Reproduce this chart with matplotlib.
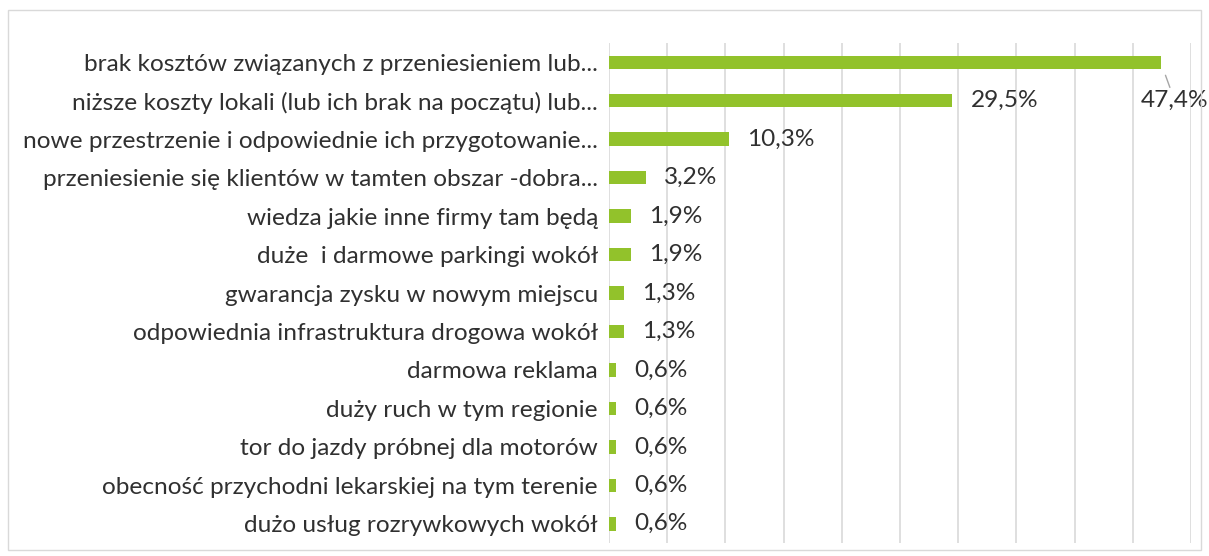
import matplotlib
matplotlib.use("Agg")
import matplotlib.pyplot as plt
from matplotlib.patches import Rectangle

categories = [
    "brak kosztów związanych z przeniesieniem lub...",
    "niższe koszty lokali (lub ich brak na początu) lub...",
    "nowe przestrzenie i odpowiednie ich przygotowanie...",
    "przeniesienie się klientów w tamten obszar -dobra...",
    "wiedza jakie inne firmy tam będą",
    "duże  i darmowe parkingi wokół",
    "gwarancja zysku w nowym miejscu",
    "odpowiednia infrastruktura drogowa wokół",
    "darmowa reklama",
    "duży ruch w tym regionie",
    "tor do jazdy próbnej dla motorów",
    "obecność przychodni lekarskiej na tym terenie",
    "dużo usług rozrywkowych wokół",
]
values = [47.4, 29.5, 10.3, 3.2, 1.9, 1.9, 1.3, 1.3, 0.6, 0.6, 0.6, 0.6, 0.6]
labels = ["47,4%", "29,5%", "10,3%", "3,2%", "1,9%", "1,9%", "1,3%", "1,3%",
          "0,6%", "0,6%", "0,6%", "0,6%", "0,6%"]

plt.rcParams['font.family'] = ['Lato', 'DejaVu Sans']
FS = 17.6
COL = "#303030"
TXT = dict(fontsize=FS, fontweight="normal", color=COL, zorder=5)

W, H = 1209, 556
fig = plt.figure(figsize=(W / 100, H / 100), dpi=100)
fig.patches.append(Rectangle((8 / W, 6 / H), (W - 16) / W, (H - 16) / H,
                             transform=fig.transFigure, fill=False,
                             edgecolor="#d9d9d9", linewidth=1))

ax = fig.add_axes([609 / W, 1 - 543 / H, (1191 - 609) / W, (543 - 43) / H])
y = list(range(len(categories)))
ax.barh(y, values, height=0.35, color="#92C22B", zorder=3)
ax.set_xlim(0, 50)
ax.set_ylim(len(categories) - 0.5, -0.5)
ax.set_xticks(range(0, 51, 5))
ax.xaxis.grid(True, color="#d9d9d9", linewidth=1.2, zorder=0)
ax.tick_params(axis="x", length=0, labelbottom=False)
ax.tick_params(axis="y", length=0, pad=8)
ax.set_yticks(y)
ax.set_yticklabels(categories, fontsize=FS, color=COL)
for s in ax.spines.values():
    s.set_visible(False)

for i, (v, lab) in enumerate(zip(values, labels)):
    if i == 0:
        ax.annotate(lab, xy=(v, i), xytext=(48.6, i + 1.0), **TXT,
                    ha="center", va="center",
                    arrowprops=dict(arrowstyle="-", color="#a6a6a6", lw=1,
                                    shrinkA=0, shrinkB=10))
    else:
        ax.annotate(lab, xy=(v, i), xytext=(13, 0), textcoords="offset points",
                    **TXT, ha="left", va="center")

fig.savefig("out.png", dpi=100)
